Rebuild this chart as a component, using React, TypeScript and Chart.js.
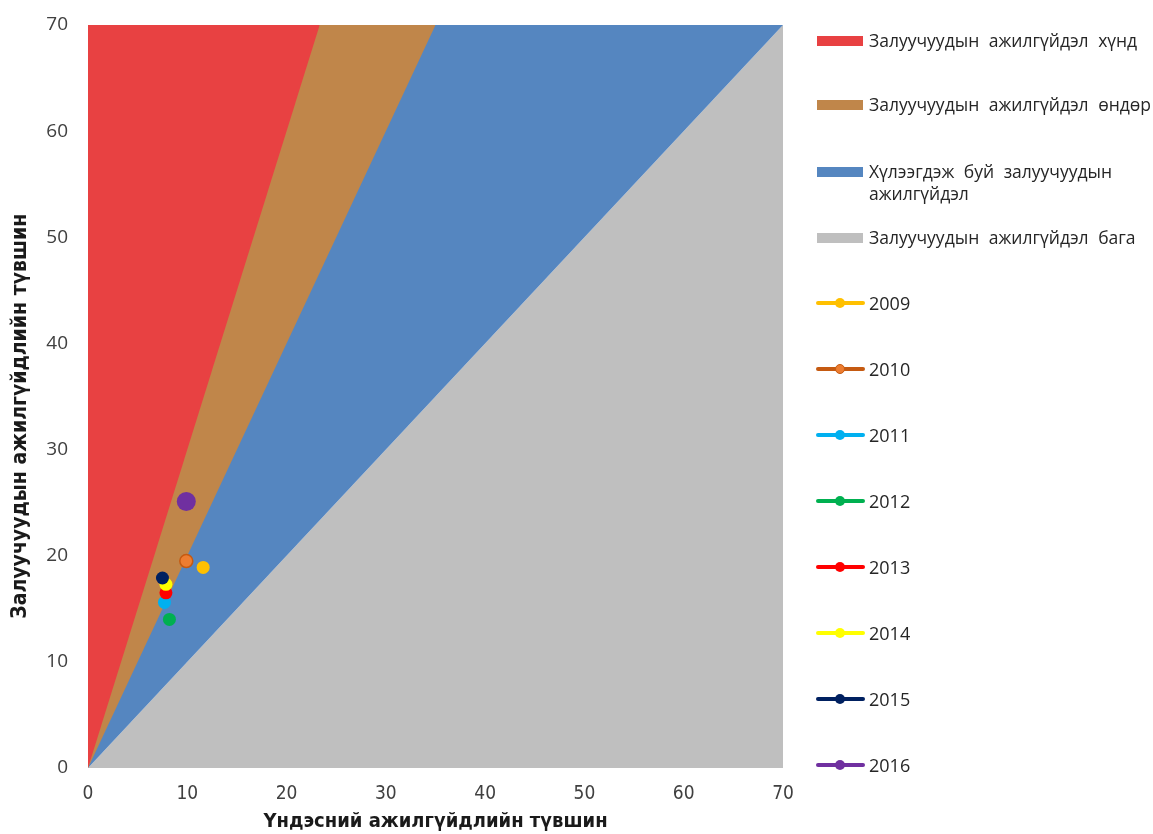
import React, { useEffect, useRef } from "react";
import { Chart, registerables } from "chart.js";

Chart.register(...registerables);

// Zone boundaries (youth rate = k × national rate)
const zoneLabels = [
  "Залуучуудын ажилгүйдэл хүнд",
  "Залуучуудын ажилгүйдэл өндөр",
  "Хүлээгдэж буй залуучуудын\nажилгүйдэл",
  "Залуучуудын ажилгүйдэл бага",
];
const zoneColors = ["#E84142", "#C0864A", "#5586C0", "#BFBFBF"];
const zoneRedLine = [{ x: 0, y: 0 }, { x: 70 / 3, y: 70 }];
const zoneOrangeLine = [{ x: 0, y: 0 }, { x: 35, y: 70 }];
const zoneBlueLine = [{ x: 0, y: 0 }, { x: 70, y: 70 }];
const zoneGrayLine = [{ x: 0, y: 0 }, { x: 70, y: 70 }];

// Yearly observations
const years = ["2009", "2010", "2011", "2012", "2013", "2014", "2015", "2016"];
const nationalRate = [11.6, 9.9, 7.7, 8.2, 7.85, 7.85, 7.5, 9.9];
const youthRate = [18.9, 19.5, 15.6, 14.0, 16.5, 17.3, 17.9, 25.1];
const yearColors = ["#FFC000", "#ED7D31", "#00B0F0", "#00B050", "#FF0000", "#FFFF00", "#002060", "#7030A0"];
const yearBorders = ["#FFC000", "#C55A11", "#00B0F0", "#00B050", "#FF0000", "#FFFF00", "#002060", "#7030A0"];
const yearRadius = [6.5, 6.5, 6.5, 6.5, 6.5, 6.5, 6.5, 9.5];

const xTicks = [0, 10, 20, 30, 40, 50, 60, 70];
const xTitle = "Үндэсний ажилгүйдлийн түвшин";
const yTitle = "Залуучуудын ажилгүйдлийн түвшин";

export default function App() {
  const ref = useRef<HTMLCanvasElement>(null);

  useEffect(() => {
    if (!ref.current) return;
    const zoneDatasets: any[] = [
      { data: zoneRedLine, fill: "end", order: 20 },
      { data: zoneOrangeLine, fill: "end", order: 21 },
      { data: zoneBlueLine, fill: "end", order: 22 },
      { data: zoneGrayLine, fill: "origin", order: 23 },
    ].map((d, i) => ({
      ...d,
      label: zoneLabels[i],
      showLine: true,
      borderWidth: 0,
      borderColor: zoneColors[i],
      backgroundColor: zoneColors[i],
      pointRadius: 0,
      pointHoverRadius: 0,
    }));
    const pointDatasets: any[] = years.map((yr, i) => ({
      label: yr,
      data: [{ x: nationalRate[i], y: youthRate[i] }],
      showLine: false,
      pointRadius: yearRadius[i],
      pointHoverRadius: yearRadius[i],
      backgroundColor: yearColors[i],
      borderColor: yearBorders[i],
      borderWidth: i === 1 ? 1.5 : 0,
      order: 10 - i,
    }));
    const chart = new Chart(ref.current, {
      type: "scatter",
      data: { datasets: [...zoneDatasets, ...pointDatasets] },
      options: {
        responsive: false,
        animation: false,
        layout: { padding: { top: 25, right: 370, bottom: 0, left: 0 } },
        plugins: { legend: { display: false }, tooltip: { enabled: false } },
        scales: {
          x: {
            type: "linear",
            min: 0,
            max: 70,
            afterBuildTicks: (s: any) => {
              s.ticks = xTicks.map((v) => ({ value: v }));
            },
            afterFit: (s: any) => {
              s.height = 66;
              s.paddingLeft = 0;
              s.paddingRight = 0;
            },
            grid: { display: false },
            border: { display: false },
            ticks: {
              padding: 7,
              color: "#404040",
              font: { family: "'DejaVu Sans Condensed', sans-serif", size: 19 },
            },
            title: {
              display: true,
              text: xTitle,
              color: "#1a1a1a",
              padding: { top: 0, bottom: 0 },
              font: { family: "'DejaVu Sans Condensed', sans-serif", size: 20, weight: "bold" },
            },
          },
          y: {
            type: "linear",
            min: 0,
            max: 70,
            afterBuildTicks: (s: any) => {
              s.ticks = xTicks.map((v) => ({ value: v }));
            },
            afterFit: (s: any) => {
              s.width = 88;
              s.paddingTop = 0;
              s.paddingBottom = 0;
            },
            grid: { display: false },
            border: { display: false },
            ticks: {
              padding: 12,
              color: "#404040",
              font: { family: "'Open Sans', sans-serif", size: 19 },
            },
            title: {
              display: true,
              text: yTitle + "      ",
              color: "#1a1a1a",
              padding: { top: 8, bottom: 0 },
              font: { family: "'DejaVu Sans Condensed', sans-serif", size: 21, weight: "bold" },
            },
          },
        },
      },
    });
    return () => chart.destroy();
  }, []);

  const legendFont = "'Open Sans', sans-serif";
  const zoneTops = [41, 105, 172, 238];
  return (
    <div style={{ position: "absolute", left: 0, top: 0, width: 1153, height: 834, background: "#fff" }}>
      <canvas ref={ref} width={1153} height={834} style={{ position: "absolute", left: 0, top: 0 }} />
      {zoneLabels.map((lab, i) => (
        <div key={lab} style={{ position: "absolute", left: 817, top: zoneTops[i] - 12, display: "flex", alignItems: "flex-start" }}>
          <div style={{ width: 46, height: 10, marginTop: 7, background: zoneColors[i] }} />
          <div
            style={{
              marginLeft: 6,
              fontFamily: legendFont,
              fontSize: 17.5,
              lineHeight: "22px",
              marginTop: 0,
              color: "#262626",
              whiteSpace: "pre",
              wordSpacing: 5,
            }}
          >
            {lab}
          </div>
        </div>
      ))}
      {years.map((yr, i) => (
        <div key={yr} style={{ position: "absolute", left: 816, top: 303 + 66 * i - 12, height: 24, display: "flex", alignItems: "center" }}>
          <div style={{ position: "relative", width: 49, height: 24 }}>
            <div style={{ position: "absolute", left: 0, top: 10, width: 49, height: 4, borderRadius: 2, background: yearBorders[i] }} />
            <div
              style={{
                position: "absolute",
                left: 19,
                top: 7,
                width: 10,
                height: 10,
                boxSizing: "border-box",
                borderRadius: 6,
                background: yearColors[i],
                border: i === 1 ? `1.5px solid ${yearBorders[i]}` : "none",
              }}
            />
          </div>
          <div style={{ marginLeft: 4, fontFamily: legendFont, fontSize: 18, color: "#262626" }}>{yr}</div>
        </div>
      ))}
    </div>
  );
}
